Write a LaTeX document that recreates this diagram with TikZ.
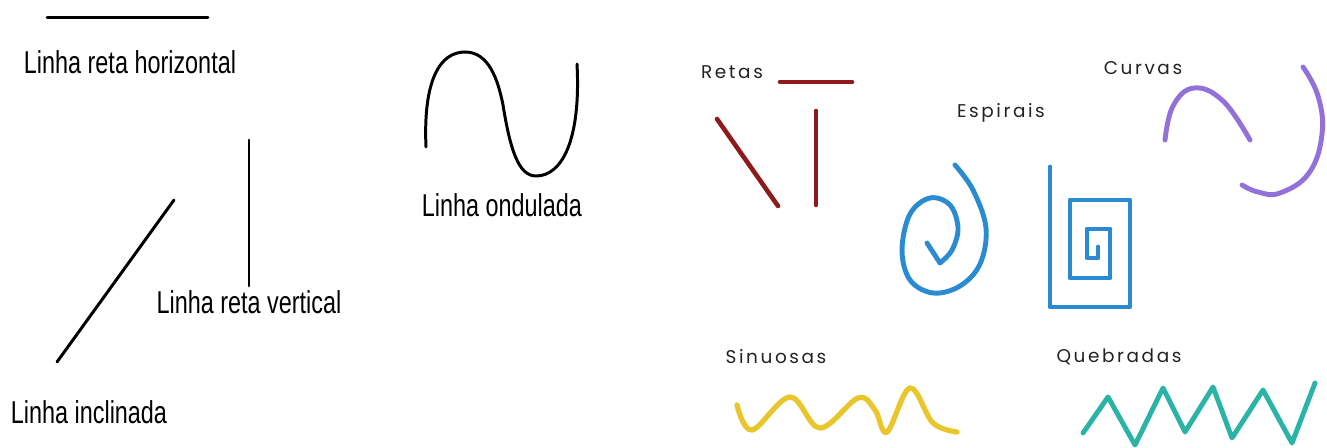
\documentclass[tikz,border=0pt]{standalone}
\usepackage{fontspec}
\setmainfont{Liberation Sans}
\newfontfamily\tagfont[LetterSpace=14]{Poppins}
\usepackage{tikz}
\usetikzlibrary{positioning}

\definecolor{retared}{HTML}{8E1B1B}
\definecolor{spiralblue}{HTML}{2B8BD2}
\definecolor{curvepurple}{HTML}{9272DA}
\definecolor{sinyellow}{HTML}{E9C62B}
\definecolor{zigteal}{HTML}{2CB3A8}
\definecolor{tagtext}{HTML}{222222}

\newcommand{\narrowtxt}[1]{\scalebox{0.74}[1]{#1}}

\begin{document}
\begin{tikzpicture}[
  x=0.02cm, y=-0.02cm,
  lbl/.style={inner sep=0pt, font=\fontsize{18}{20}\selectfont},
  tag/.style={inner sep=0pt, text=tagtext, font=\tagfont\fontsize{10.5}{12}\selectfont},
  blackline/.style={line width=1.7pt, line cap=round},
  retaline/.style={retared, line width=2.6pt, line cap=round},
  spiralline/.style={spiralblue, line width=2.8pt, line cap=round, line join=round},
  curveline/.style={curvepurple, line width=2.8pt, line cap=round},
  sinline/.style={sinyellow, line width=3pt, line cap=round},
  zigline/.style={zigteal, line width=2.8pt, line cap=round, line join=round}
]
  \useasboundingbox (0,0) rectangle (1327,448);

  % left: straight lines
  \draw[blackline] (47,18) -- (208,18);
  \node[lbl] (horiz) at (130,62) {\narrowtxt{Linha reta horizontal}};
  \draw[blackline] (249,140) -- (249,286);
  \node[lbl] (vert) at (249,302) {\narrowtxt{Linha reta vertical}};
  \draw[blackline] (174,200) -- (57,362);
  \node[lbl] (incl) at (89,412) {\narrowtxt{Linha inclinada}};

  % wave
  \draw[blackline] (426,147) .. controls (423,80) and (440,52) .. (465,52)
    .. controls (489,52) and (498,80) .. (503,105)
    .. controls (510,148) and (518,176) .. (536,176)
    .. controls (562,176) and (581,140) .. (577,64);
  \node[lbl] (wave) at (502,205) {\narrowtxt{Linha ondulada}};

  % right: kinds of lines
  \node[tag] (retas) at (732,72) {Retas};
  \draw[retaline] (780,82) -- (852,82);
  \draw[retaline] (717,119) -- (778,206);
  \draw[retaline] (816,111) -- (816,205);

  \node[tag] (espirais) at (1001,113) {Espirais};
  \draw[spiralline] plot[smooth, tension=0.6] coordinates
    {(955,165) (973,190) (986,228) (980,264) (960,286) (933,293) (910,280) (902,250) (910,214) (930,198) (950,205) (958,228) (952,250) (940,263)}
    -- (927,243);
  \draw[spiralline] (1050,167) -- (1050,307) -- (1130,307) -- (1130,200)
    -- (1070,200) -- (1070,278) -- (1110,278) -- (1110,229) -- (1087,229)
    -- (1087,258) -- (1098,258) -- (1098,247);

  \node[tag] (curvas) at (1143,68) {Curvas};
  \draw[curveline] plot[smooth, tension=0.7] coordinates
    {(1165,140) (1173,106) (1194,88) (1223,101) (1250,140)};
  \draw[curveline] plot[smooth, tension=0.7] coordinates
    {(1303,67) (1318,96) (1322,134) (1309,173) (1280,193) (1258,192) (1242,185)};

  \node[tag] (sinuosas) at (776,357) {Sinuosas};
  \draw[sinline] plot[smooth, tension=0.6] coordinates
    {(737,405) (752,430) (790,397) (820,428) (858,398) (875,410) (887,432) (910,388) (933,423) (957,432)};

  \node[tag] (quebradas) at (1119,357) {Quebradas};
  \draw[zigline] (1083,433) -- (1108,397) -- (1135,445) -- (1163,388) -- (1185,432)
    -- (1213,387) -- (1232,438) -- (1263,390) -- (1292,443) -- (1315,383);
\end{tikzpicture}
\end{document}
